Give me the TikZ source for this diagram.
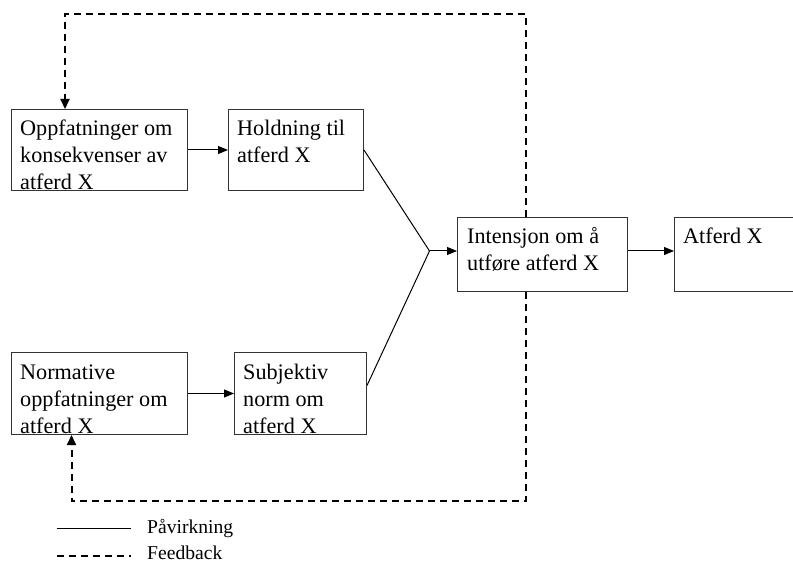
\documentclass[tikz,border=0pt]{standalone}
\usepackage{fontspec}
\setmainfont{Liberation Serif}
\usetikzlibrary{arrows.meta,calc}

\tikzset{
  box/.style={draw=black!80, line width=1pt, fill=white, rectangle,
    anchor=north west, inner sep=0pt},
  % text nodes are placed by the baseline of their last line
  boxtext/.style={anchor=base west, align=left, inner sep=0pt,
    font=\fontsize{22.2}{27}\selectfont},
  legendtext/.style={anchor=base west, inner sep=0pt,
    font=\fontsize{19.6}{23}\selectfont},
  influence/.style={draw=black, line width=1pt},
  feedback/.style={draw=black, line width=2pt, dash pattern=on 7pt off 5pt},
  tip/.style={-{Triangle[length=10pt,width=8pt]}},
  fbtip/.style={-{Triangle[length=10pt,width=9pt]}}
}

\begin{document}
\begin{tikzpicture}[x=1pt,y=-1pt]
  \useasboundingbox (0,0) rectangle (793,561);

  % corners of the feedback loop
  \coordinate (ftop) at (526,14);
  \coordinate (fbot) at (526,501);
  \coordinate (fleftA) at (65,14);
  \coordinate (fleftC) at (71.5,501);

  % boxes
  \node[box, minimum width=176pt, minimum height=81pt] (A) at (11,109) {};
  \node[box, minimum width=135pt, minimum height=81pt] (B) at (228,109) {};
  \node[box, minimum width=176pt, minimum height=82pt] (C) at (11,352) {};
  \node[box, minimum width=132pt, minimum height=82pt] (D) at (234,352) {};
  \node[box, minimum width=170pt, minimum height=74pt] (E) at (457,217) {};
  \node[box, minimum width=125pt, minimum height=74pt] (F) at (674,217) {};

  % box texts
  \node[boxtext] (tA) at (20,190) {Oppfatninger om\\konsekvenser av\\atferd X};
  \node[boxtext] (tB) at (237,163) {Holdning til\\atferd X};
  \node[boxtext] (tC) at (20,433) {Normative\\oppfatninger om\\atferd X};
  \node[boxtext] (tD) at (243,433) {Subjektiv\\norm om\\atferd X};
  \node[boxtext] (tE) at (467,271) {Intensjon om å\\utføre atferd X};
  \node[boxtext] (tF) at (683,244) {Atferd X};

  % influences
  \coordinate (J) at (429.5,251);
  \draw[influence, tip] (A.east) -- (B.west);
  \draw[influence, tip] (C.east) -- (D.west);
  \draw[influence] (B.east) -- (J);
  \draw[influence] ([yshift=8pt]D.east) -- (J);
  \draw[influence, tip] (J) -- (E.west |- J);
  \draw[influence, tip] (E.east |- J) -- (F.west |- J);

  % feedback
  \draw[feedback, fbtip] (E.north -| ftop) -- (ftop) -- (fleftA) -- (A.north -| fleftA);
  \draw[feedback, fbtip] (E.south -| fbot) -- (fbot) -- (fleftC) -- (C.south -| fleftC);

  % legend
  \coordinate (l1a) at (57,528);
  \coordinate (l1b) at (131,528);
  \coordinate (l2a) at (57,556);
  \coordinate (l2b) at (131,556);
  \draw[influence] (l1a) -- (l1b);
  \draw[feedback] (l2a) -- (l2b);
  \node[legendtext] (lg1) at (147,533) {Påvirkning};
  \node[legendtext] (lg2) at (147,559.5) {Feedback};
\end{tikzpicture}
\end{document}
